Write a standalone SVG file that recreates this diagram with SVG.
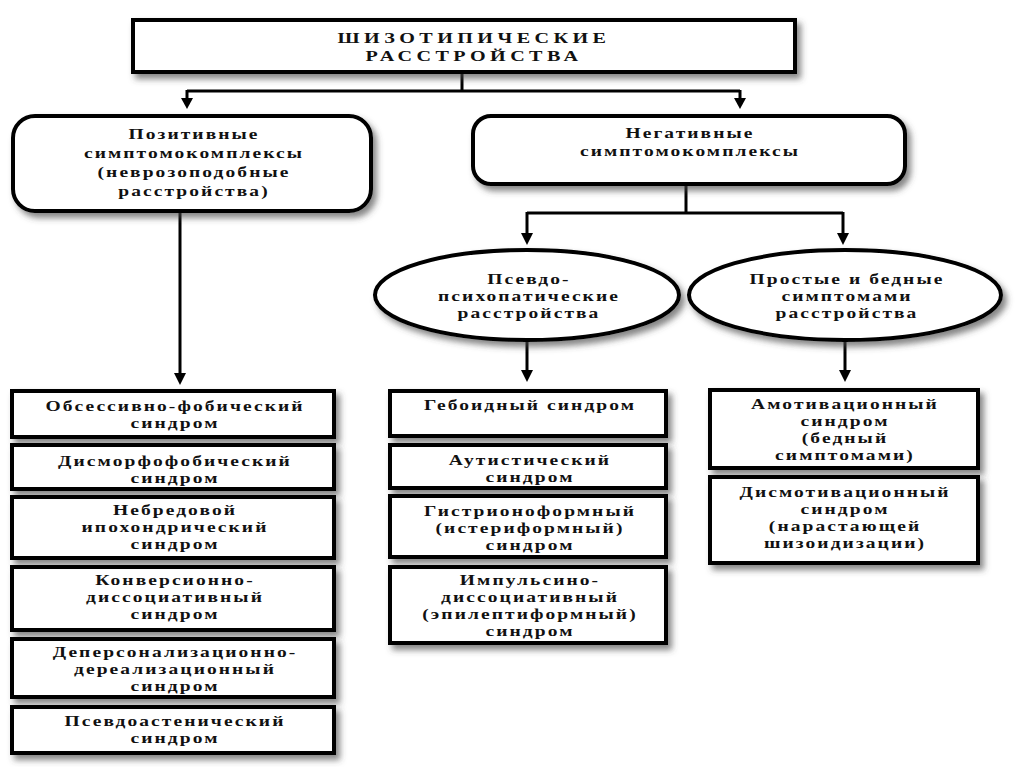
<svg xmlns="http://www.w3.org/2000/svg" width="1024" height="767" viewBox="0 0 1024 767">
<defs>
<filter id="sh" x="-10%" y="-20%" width="125%" height="150%">
<feDropShadow dx="4" dy="5" stdDeviation="3" flood-color="#444" flood-opacity="0.65"/>
</filter>
<style>
.b{fill:#fff;stroke:#000;stroke-width:4;filter:url(#sh)}
.t{font-family:"Liberation Serif","Times New Roman",serif;font-weight:bold;font-size:15px;letter-spacing:1.6px;text-anchor:middle;fill:#111}
.tt{font-family:"Liberation Serif","Times New Roman",serif;font-weight:bold;font-size:15.5px;letter-spacing:3.4px;text-anchor:middle;fill:#111}
.c{fill:none;stroke:#000;stroke-width:3}
.ah{fill:#000}
</style>
</defs>
<rect width="1024" height="767" fill="#fff"/>
<g id="connectors">
<polyline class="c" points="462,73 462,91"/>
<polyline class="c" points="187,91 740,91"/>
<line class="c" x1="187" y1="90" x2="187" y2="100"/>
<polygon class="ah" points="181,98 193,98 187,109"/>
<line class="c" x1="740" y1="90" x2="740" y2="100"/>
<polygon class="ah" points="734,98 746,98 740,109"/>
<line class="c" x1="180" y1="212" x2="180" y2="375"/>
<polygon class="ah" points="174,373 186,373 180,385"/>
<line class="c" x1="686" y1="185" x2="686" y2="213"/>
<polyline class="c" points="527,213 843,213"/>
<line class="c" x1="527" y1="212" x2="527" y2="235"/>
<polygon class="ah" points="521,233 533,233 527,245"/>
<line class="c" x1="843" y1="212" x2="843" y2="235"/>
<polygon class="ah" points="837,233 849,233 843,245"/>
<line class="c" x1="527" y1="340" x2="527" y2="372"/>
<polygon class="ah" points="521,370 533,370 527,382"/>
<line class="c" x1="845" y1="340" x2="845" y2="372"/>
<polygon class="ah" points="839,370 851,370 845,382"/>
</g>
<g id="root">
<rect class="b" x="133" y="20" width="662" height="52"/>
<text class="tt" transform="translate(474 43) scale(1.3 1)">ШИЗОТИПИЧЕСКИЕ</text>
<text class="tt" transform="translate(474 61) scale(1.3 1)">РАССТРОЙСТВА</text>
</g>
<g id="positive">
<rect class="b" x="13" y="116" width="358" height="95" rx="22"/>
<text class="t" transform="translate(194 139) scale(1.3 1)">Позитивные</text>
<text class="t" transform="translate(194 158) scale(1.3 1)">симптомокомплексы</text>
<text class="t" transform="translate(194 177) scale(1.3 1)">(неврозоподобные</text>
<text class="t" transform="translate(194 196) scale(1.3 1)">расстройства)</text>
</g>
<g id="negative">
<rect class="b" x="473" y="116" width="432" height="68" rx="18"/>
<text class="t" transform="translate(690 138) scale(1.3 1)">Негативные</text>
<text class="t" transform="translate(690 156) scale(1.3 1)">симптомокомплексы</text>
</g>
<g id="pseudo">
<ellipse class="b" cx="527" cy="295" rx="152" ry="45"/>
<text class="t" transform="translate(529 284) scale(1.3 1)">Псевдо-</text>
<text class="t" transform="translate(529 301) scale(1.3 1)">психопатические</text>
<text class="t" transform="translate(529 318) scale(1.3 1)">расстройства</text>
</g>
<g id="simple">
<ellipse class="b" cx="845" cy="295" rx="156" ry="45"/>
<text class="t" transform="translate(847 284) scale(1.3 1)">Простые и бедные</text>
<text class="t" transform="translate(847 301) scale(1.3 1)">симптомами</text>
<text class="t" transform="translate(847 318) scale(1.3 1)">расстройства</text>
</g>
<g id="l1"><rect class="b" x="12" y="391" width="322" height="46"/>
<text class="t" transform="translate(175 411) scale(1.3 1)">Обсессивно-фобический</text><text class="t" transform="translate(175 428) scale(1.3 1)">синдром</text></g>
<g id="l2"><rect class="b" x="12" y="445" width="322" height="44"/>
<text class="t" transform="translate(175 466) scale(1.3 1)">Дисморфофобический</text><text class="t" transform="translate(175 483) scale(1.3 1)">синдром</text></g>
<g id="l3"><rect class="b" x="12" y="497" width="322" height="61"/>
<text class="t" transform="translate(175 515) scale(1.3 1)">Небредовой</text><text class="t" transform="translate(175 532) scale(1.3 1)">ипохондрический</text><text class="t" transform="translate(175 549) scale(1.3 1)">синдром</text></g>
<g id="l4"><rect class="b" x="12" y="567" width="322" height="63"/>
<text class="t" transform="translate(175 585) scale(1.3 1)">Конверсионно-</text><text class="t" transform="translate(175 602) scale(1.3 1)">диссоциативный</text><text class="t" transform="translate(175 619) scale(1.3 1)">синдром</text></g>
<g id="l5"><rect class="b" x="12" y="639" width="322" height="58"/>
<text class="t" transform="translate(175 657) scale(1.3 1)">Деперсонализационно-</text><text class="t" transform="translate(175 674) scale(1.3 1)">дереализационный</text><text class="t" transform="translate(175 691) scale(1.3 1)">синдром</text></g>
<g id="l6"><rect class="b" x="12" y="707" width="322" height="46"/>
<text class="t" transform="translate(175 726) scale(1.3 1)">Псевдоастенический</text><text class="t" transform="translate(175 743) scale(1.3 1)">синдром</text></g>
<g id="m1"><rect class="b" x="390" y="391" width="276" height="45"/>
<text class="t" transform="translate(530 410) scale(1.3 1)">Гебоидный синдром</text></g>
<g id="m2"><rect class="b" x="390" y="445" width="276" height="43"/>
<text class="t" transform="translate(530 465) scale(1.3 1)">Аутистический</text><text class="t" transform="translate(530 482) scale(1.3 1)">синдром</text></g>
<g id="m3"><rect class="b" x="390" y="496" width="276" height="61"/>
<text class="t" transform="translate(530 516) scale(1.3 1)">Гистрионоформный</text><text class="t" transform="translate(530 533) scale(1.3 1)">(истериформный)</text><text class="t" transform="translate(530 550) scale(1.3 1)">синдром</text></g>
<g id="m4"><rect class="b" x="390" y="567" width="276" height="76"/>
<text class="t" transform="translate(530 585) scale(1.3 1)">Импульсино-</text><text class="t" transform="translate(530 602) scale(1.3 1)">диссоциативный</text><text class="t" transform="translate(530 619) scale(1.3 1)">(эпилептиформный)</text><text class="t" transform="translate(530 636) scale(1.3 1)">синдром</text></g>
<g id="r1"><rect class="b" x="710" y="390" width="268" height="78"/>
<text class="t" transform="translate(845 409) scale(1.3 1)">Амотивационный</text><text class="t" transform="translate(845 426) scale(1.3 1)">синдром</text><text class="t" transform="translate(845 443) scale(1.3 1)">(бедный</text><text class="t" transform="translate(845 460) scale(1.3 1)">симптомами)</text></g>
<g id="r2"><rect class="b" x="710" y="477" width="268" height="86"/>
<text class="t" transform="translate(845 497) scale(1.3 1)">Дисмотивационный</text><text class="t" transform="translate(845 514) scale(1.3 1)">синдром</text><text class="t" transform="translate(845 531) scale(1.3 1)">(нарастающей</text><text class="t" transform="translate(845 548) scale(1.3 1)">шизоидизации)</text></g>
</svg>
